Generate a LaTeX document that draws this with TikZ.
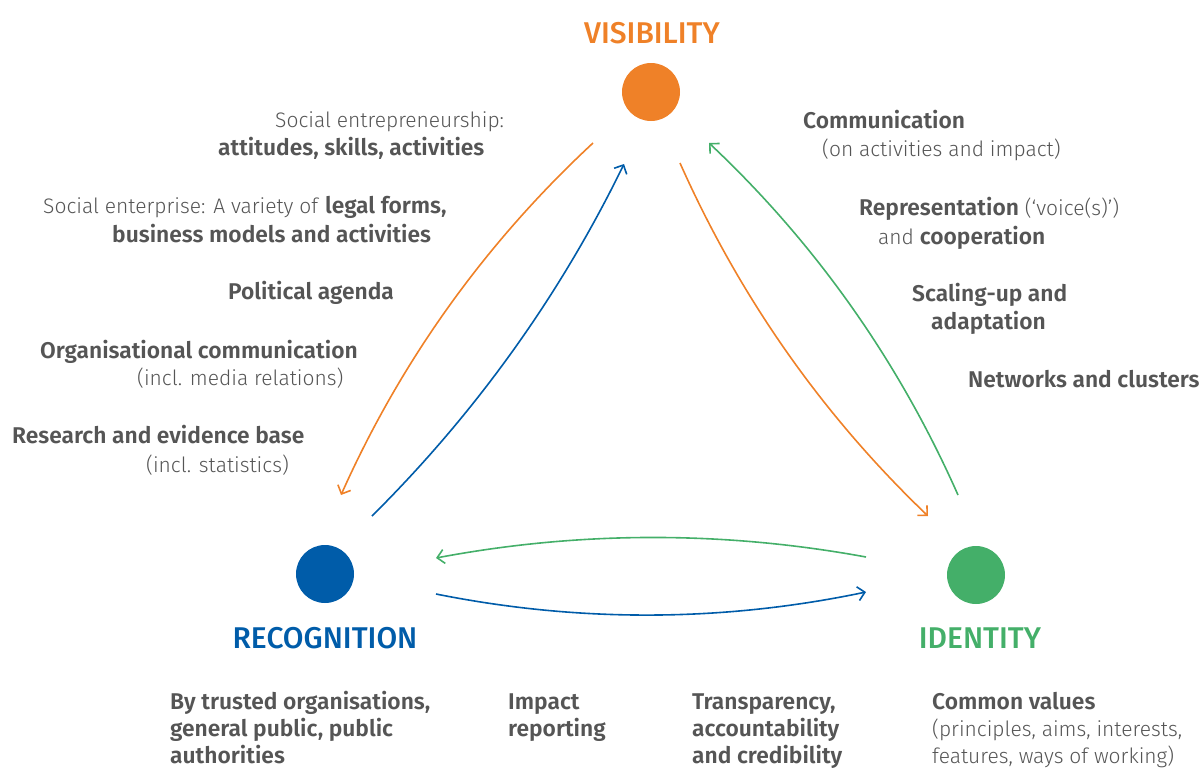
\documentclass[tikz,border=0pt]{standalone}
\usepackage{fontspec}
\setmainfont{Fira Sans}[UprightFont={Fira Sans Light},BoldFont={Fira Sans SemiBold},BoldFeatures={Scale=1.085}]
\newfontfamily\titlefont{Fira Sans Medium}
\usetikzlibrary{arrows.meta}
\definecolor{cvis}{HTML}{EF8128}
\definecolor{crec}{HTML}{005CA9}
\definecolor{cide}{HTML}{44AF69}
\definecolor{ctext}{HTML}{555555}
\tikzset{
  dot/.style={circle,inner sep=0pt,minimum size=58pt},
  title/.style={font=\titlefont\fontsize{30}{34}\selectfont,anchor=base},
  txt/.style={font=\fontsize{21}{26}\selectfont,text=ctext,anchor=base west,inner sep=0pt},
  conn/.style={line width=1.6pt,-{Straight Barb[length=7pt,width=14pt,line width=1.6pt]}},
}
\begin{document}
\begin{tikzpicture}[x=1pt,y=-1pt]
\useasboundingbox (0,0) rectangle (1200,769);
% dots
\node[dot,fill=cvis] (vis) at (651,92) {};
\node[dot,fill=crec] (rec) at (325,574) {};
\node[dot,fill=cide] (ide) at (976,575) {};
% titles
\node[title,text=cvis] (visT) at (652,43) {VISIBILITY};
\node[title,text=crec] (recT) at (325,648) {RECOGNITION};
\node[title,text=cide] (ideT) at (980,648) {IDENTITY};
% connector ends
\coordinate (o1s) at (593,143); \coordinate (o1e) at (341,495);
\coordinate (b1s) at (372,516); \coordinate (b1e) at (624,164);
\coordinate (o2s) at (680,163); \coordinate (o2e) at (928,516);
\coordinate (g1s) at (958,495); \coordinate (g1e) at (709,143);
\coordinate (g2s) at (866,557); \coordinate (g2e) at (436,558);
\coordinate (b2s) at (436,594); \coordinate (b2e) at (866,592);
\draw[conn,cvis] (o1s) .. controls (485,243.3) and (401,360.7) .. (o1e);
\draw[conn,crec] (b1s) .. controls (476,412.7) and (560,295.3) .. (b1e);
\draw[conn,cvis] (o2s) .. controls (739.7,297.2) and (822.3,414.8) .. (o2e);
\draw[conn,cide] (g1s) .. controls (898.5,360.7) and (815.5,243.3) .. (g1e);
\draw[conn,cide] (g2s) .. controls (722.7,530.7) and (579.3,531) .. (g2e);
\draw[conn,crec] (b2s) .. controls (579.3,622.7) and (722.7,622) .. (b2e);
% left texts
\node[txt] (l1a) at (275,127) {Social entrepreneurship:};
\node[txt] (l1b) at (218,155) {\textbf{attitudes, skills, activities}};
\node[txt] (l2a) at (43,213) {Social enterprise: A variety of \textbf{legal forms,}};
\node[txt] (l2b) at (112,242) {\textbf{business models and activities}};
\node[txt] (l3) at (228,299) {\textbf{Political agenda}};
\node[txt] (l4a) at (40,358) {\textbf{Organisational communication}};
\node[txt] (l4b) at (137,385) {(incl. media relations)};
\node[txt] (l5a) at (12,443) {\textbf{Research and evidence base}};
\node[txt] (l5b) at (146,472) {(incl. statistics)};
% right texts
\node[txt] (r1a) at (803,128) {\textbf{Communication}};
\node[txt] (r1b) at (822,156) {(on activities and impact)};
\node[txt] (r2a) at (859,215) {\textbf{Representation} (‘voice(s)’)};
\node[txt] (r2b) at (878,244) {and \textbf{cooperation}};
\node[txt] (r3a) at (912,301) {\textbf{Scaling-up and}};
\node[txt] (r3b) at (931,329) {\textbf{adaptation}};
\node[txt] (r4) at (968,387) {\textbf{Networks and clusters}};
% bottom texts
\node[txt] (b1a) at (170,709) {\textbf{By trusted organisations,}};
\node[txt] (b1b) at (170,736.5) {\textbf{general public, public}};
\node[txt] (b1c) at (170,763.5) {\textbf{authorities}};
\node[txt] (b2a) at (508,709) {\textbf{Impact}};
\node[txt] (b2b) at (508,736.5) {\textbf{reporting}};
\node[txt] (b3a) at (692,709) {\textbf{Transparency,}};
\node[txt] (b3b) at (692,736.5) {\textbf{accountability}};
\node[txt] (b3c) at (692,763.5) {\textbf{and credibility}};
\node[txt] (b4a) at (932,709) {\textbf{Common values}};
\node[txt] (b4b) at (932,736.5) {(principles, aims, interests,};
\node[txt] (b4c) at (932,763.5) {features, ways of working)};
\end{tikzpicture}
\end{document}
